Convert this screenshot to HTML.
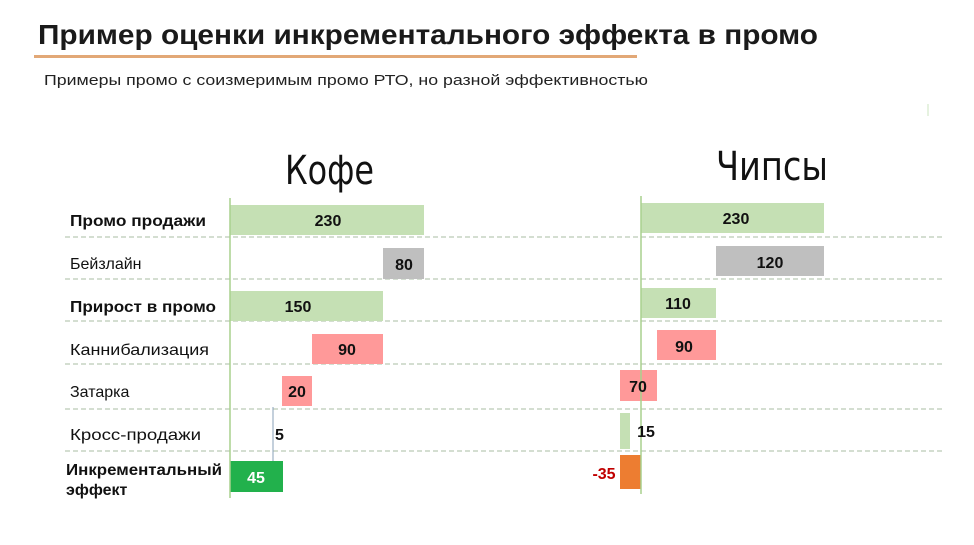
<!DOCTYPE html>
<html><head><meta charset="utf-8"><style>
html,body{margin:0;padding:0;background:#fff;}
svg{display:block;font-family:"Liberation Sans","DejaVu Sans",sans-serif;}
</style></head><body>
<svg width="974" height="545" viewBox="0 0 974 545" xmlns="http://www.w3.org/2000/svg">
<rect width="974" height="545" fill="#fff"/>
<text x="38" y="44" font-size="28" font-weight="bold" fill="#1a1a1a" textLength="780" lengthAdjust="spacingAndGlyphs">Пример оценки инкрементального эффекта в промо</text>
<rect x="34" y="55" width="603" height="3" fill="#e2a877"/>
<text x="44" y="85" font-size="15" fill="#222" textLength="604" lengthAdjust="spacingAndGlyphs">Примеры промо с соизмеримым промо РТО, но разной эффективностью</text>
<line x1="928" y1="104" x2="928" y2="116" stroke="#cde6c0" stroke-width="1"/>
<text x="285" y="184" font-size="40" fill="#111" font-family="'Liberation Sans Narrow','DejaVu Sans Condensed',sans-serif" textLength="89" lengthAdjust="spacingAndGlyphs">Кофе</text>
<text x="716" y="180" font-size="40" fill="#111" font-family="'Liberation Sans Narrow','DejaVu Sans Condensed',sans-serif" textLength="112" lengthAdjust="spacingAndGlyphs">Чипсы</text>
<g stroke="#a8bca3" stroke-width="1" stroke-dasharray="5,3">
<line x1="65" y1="237" x2="943" y2="237"/>
<line x1="65" y1="279" x2="943" y2="279"/>
<line x1="65" y1="321" x2="943" y2="321"/>
<line x1="65" y1="364" x2="943" y2="364"/>
<line x1="65" y1="409" x2="943" y2="409"/>
<line x1="65" y1="451" x2="943" y2="451"/>
</g>
<g font-size="16" fill="#111">
<text x="70" y="226" font-weight="bold" textLength="136" lengthAdjust="spacingAndGlyphs">Промо продажи</text>
<text x="70" y="269">Бейзлайн</text>
<text x="70" y="312" font-weight="bold" textLength="146" lengthAdjust="spacingAndGlyphs">Прирост в промо</text>
<text x="70" y="355" textLength="139" lengthAdjust="spacingAndGlyphs">Каннибализация</text>
<text x="70" y="397">Затарка</text>
<text x="70" y="440" textLength="131" lengthAdjust="spacingAndGlyphs">Кросс-продажи</text>
<text x="66" y="475" font-weight="bold" textLength="156" lengthAdjust="spacingAndGlyphs">Инкрементальный</text>
<text x="66" y="495" font-weight="bold">эффект</text>
</g>
<!-- Left chart -->
<rect x="230" y="205" width="194" height="30" fill="#c5e0b4"/>
<rect x="383" y="248" width="41" height="31" fill="#bfbfbf"/>
<rect x="230" y="291" width="153" height="30" fill="#c5e0b4"/>
<rect x="312" y="334" width="71" height="30" fill="#ff9999"/>
<rect x="282" y="376" width="30" height="30" fill="#ff9999"/>
<line x1="273" y1="407" x2="273" y2="461" stroke="#8aa0b8" stroke-width="1"/>
<rect x="230" y="461" width="53" height="31" fill="#22b14c"/>
<line x1="230" y1="198" x2="230" y2="498" stroke="#a9d18e" stroke-width="1.5"/>
<g font-size="16" font-weight="bold" fill="#111" text-anchor="middle">
<text x="328" y="226">230</text>
<text x="404" y="270">80</text>
<text x="298" y="312">150</text>
<text x="347" y="355">90</text>
<text x="297" y="397">20</text>
<text x="275" y="440" text-anchor="start">5</text>
<text x="256" y="483" fill="#fff">45</text>
</g>
<!-- Right chart -->
<rect x="641" y="203" width="183" height="30" fill="#c5e0b4"/>
<rect x="716" y="246" width="108" height="30" fill="#bfbfbf"/>
<rect x="641" y="288" width="75" height="30" fill="#c5e0b4"/>
<rect x="657" y="330" width="59" height="30" fill="#ff9999"/>
<rect x="620" y="370" width="37" height="31" fill="#ff9999"/>
<rect x="620" y="413" width="10" height="36" fill="#c5e0b4"/>
<rect x="620" y="455" width="21" height="34" fill="#ed7d31"/>
<line x1="641" y1="196" x2="641" y2="494" stroke="#a9d18e" stroke-width="1.5"/>
<g font-size="16" font-weight="bold" fill="#111" text-anchor="middle">
<text x="736" y="224">230</text>
<text x="770" y="268">120</text>
<text x="678" y="309">110</text>
<text x="684" y="352">90</text>
<text x="638" y="392">70</text>
<text x="646" y="437">15</text>
<text x="604" y="479" fill="#c00000">-35</text>
</g>
</svg>
</body></html>
